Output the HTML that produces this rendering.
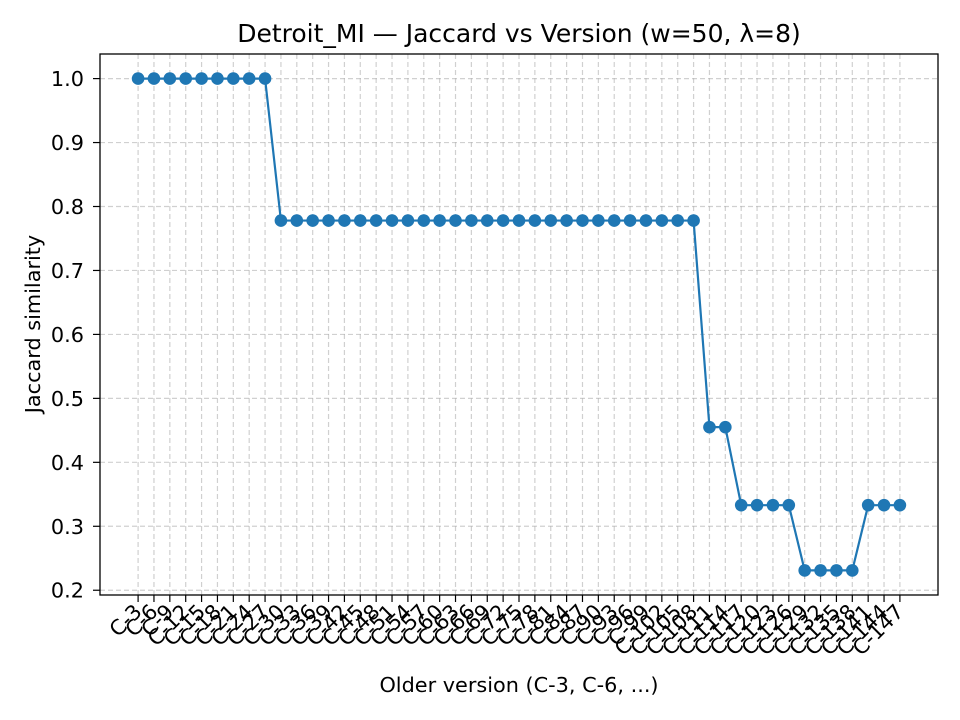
<!DOCTYPE html>
<html><head><meta charset="utf-8"><style>body{margin:0;background:#fff}svg{display:block;font-family:"DejaVu Sans","Liberation Sans",sans-serif}</style></head>
<body>
<svg id="chart" width="960" height="720" viewBox="0 0 960 720" xmlns="http://www.w3.org/2000/svg">
<rect width="960" height="720" fill="#fff"/>
<text x="519" y="42" text-anchor="middle" font-size="25">Detroit_MI — Jaccard vs Version (w=50, λ=8)</text>
<text x="519" y="692" text-anchor="middle" font-size="20.8">Older version (C-3, C-6, ...)</text>
<text transform="translate(40,324) rotate(-90)" text-anchor="middle" font-size="20.8">Jaccard similarity</text>
<g id="grid"></g><g id="axes"></g><g id="marks"></g>
<rect x="100" y="54" width="838" height="541" fill="none" stroke="#000" stroke-width="1.3"/>
</svg>
<script>
const categories = [];
for (let i = 0; i < 49; i++) categories.push('C-' + (3 * (i + 1)));
const jaccardValues = [1,1,1,1,1,1,1,1,1,
0.778,0.778,0.778,0.778,0.778,0.778,0.778,0.778,0.778,0.778,0.778,0.778,0.778,0.778,0.778,0.778,0.778,0.778,0.778,0.778,0.778,0.778,0.778,0.778,0.778,0.778,0.778,
0.455,0.455,0.333,0.333,0.333,0.333,0.231,0.231,0.231,0.231,0.333,0.333,0.333];
const yTicks = [0.2,0.3,0.4,0.5,0.6,0.7,0.8,0.9,1.0];
const yTickLabels = ['0.2','0.3','0.4','0.5','0.6','0.7','0.8','0.9','1.0'];

const L=100,R=938,T=54,B=595;
const n=categories.length;
const xMin=-0.05*(n-1), xMax=(n-1)*1.05;
const vmin=Math.min(...jaccardValues), vmax=Math.max(...jaccardValues);
const yMin=vmin-0.05*(vmax-vmin), yMax=vmax+0.05*(vmax-vmin);
const xs=i=>L+(i-xMin)/(xMax-xMin)*(R-L);
const ys=v=>B-(v-yMin)/(yMax-yMin)*(B-T);
const NS='http://www.w3.org/2000/svg';
function mk(tag,attrs,parent){const e=document.createElementNS(NS,tag);for(const k in attrs)e.setAttribute(k,attrs[k]);parent.appendChild(e);return e;}
const grid=document.getElementById('grid'),axes=document.getElementById('axes'),marks=document.getElementById('marks');
categories.forEach((c,i)=>{
  const x=xs(i);
  const g=mk('line',{x1:x,x2:x,y1:T,y2:B,stroke:'#b0b0b0','stroke-width':1.2,'stroke-dasharray':'5,3','stroke-opacity':0.6},grid);
  
  
  const t=mk('line',{x1:x,x2:x,y1:B,y2:B+7,stroke:'#000','stroke-width':1.2},axes);
  
  
  const lb=mk('text',{transform:`translate(${x+5},${B+18}) rotate(-45)`,'text-anchor':'end','font-size':'20.8'},axes);
  lb.textContent=c;
  
  
});
yTicks.forEach((v,i)=>{
  const y=ys(v);
  const g=mk('line',{x1:L,x2:R,y1:y,y2:y,stroke:'#b0b0b0','stroke-width':1.2,'stroke-dasharray':'5,3','stroke-opacity':0.6},grid);
  
  
  const t=mk('line',{x1:L-7,x2:L,y1:y,y2:y,stroke:'#000','stroke-width':1.2},axes);
  
  
  const lb=mk('text',{x:L-16,y:y+7.5,'text-anchor':'end','font-size':'20.8'},axes);
  lb.textContent=yTickLabels[i];
  
  
});
const pl=mk('polyline',{points:jaccardValues.map((v,i)=>xs(i)+','+ys(v)).join(' '),fill:'none',stroke:'#1f77b4','stroke-width':2.2},marks);


jaccardValues.forEach((v,i)=>{
  const c=mk('circle',{cx:xs(i),cy:ys(v),r:6.3,fill:'#1f77b4'},marks);
  
  
});
</script>
</body></html>
